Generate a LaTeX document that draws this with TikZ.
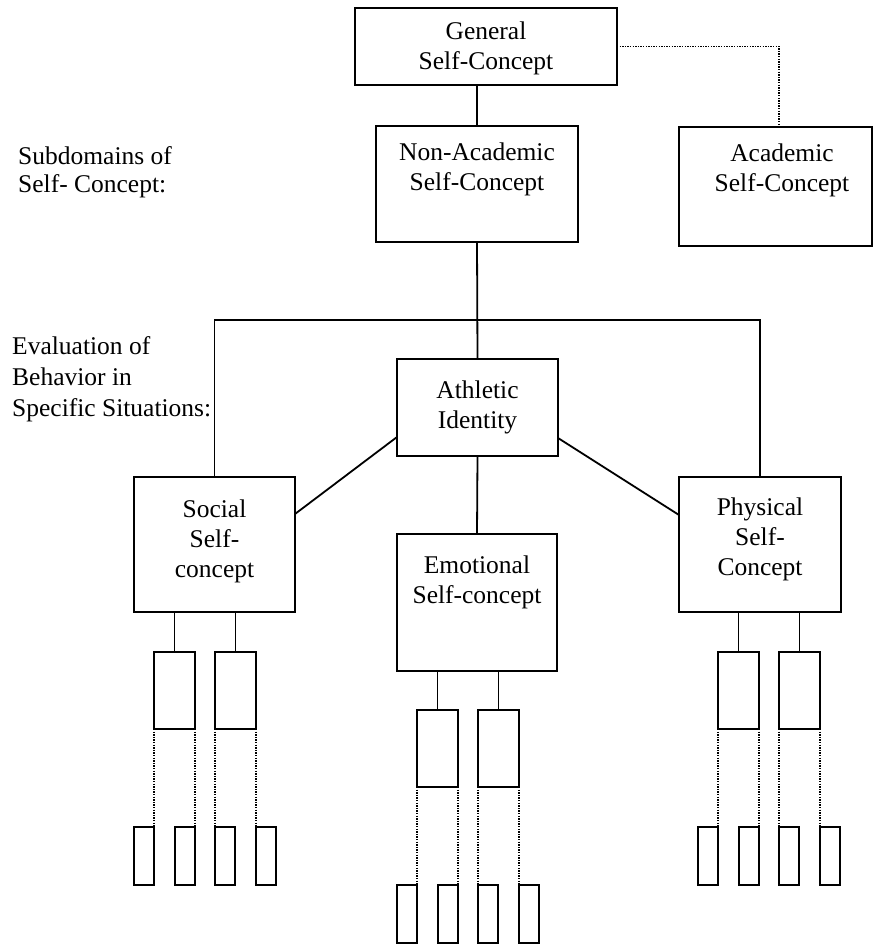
\documentclass[tikz,border=0pt]{standalone}
\usepackage{fontspec}
\setmainfont{Liberation Serif}
\usetikzlibrary{calc}
\tikzset{
  box/.style={draw, line width=2.6pt, fill=white, rectangle, inner sep=0pt, outer sep=0pt},
  conn/.style={line width=1.8pt},
  dotline/.style={line width=1.4pt, dash pattern=on 1.3pt off 1.3pt},
  txt/.style={align=center, inner sep=0pt, font=\fontsize{25.5}{30}\selectfont},
  lefttxt/.style={align=left, inner sep=0pt, anchor=north west},
}
\newcommand{\subtree}[5]{%
  % #1 prefix, #2 L (left of first mid box), #3 mid top, #4 small top, #5 parent
  \node[box, minimum width=41pt, minimum height=77pt] (#1m1) at (#2+20.5, #3+38.5) {};
  \node[box, minimum width=41pt, minimum height=77pt] (#1m2) at (#2+81.5, #3+38.5) {};
  \node[box, minimum width=20pt, minimum height=58pt] (#1s1) at (#2-10, #4+29) {};
  \node[box, minimum width=20pt, minimum height=58pt] (#1s2) at (#2+31, #4+29) {};
  \node[box, minimum width=20pt, minimum height=58pt] (#1s3) at (#2+71, #4+29) {};
  \node[box, minimum width=20pt, minimum height=58pt] (#1s4) at (#2+112, #4+29) {};
  \draw[conn] (#1m1.north) -- (#1m1.north |- #5.south);
  \draw[conn] (#1m2.north) -- (#1m2.north |- #5.south);
  \draw[dotline] (#1m1.south west) -- (#1s1.north east);
  \draw[dotline] (#1m1.south east) -- (#1s2.north east);
  \draw[dotline] (#1m2.south west) -- (#1s3.north west);
  \draw[dotline] (#1m2.south east) -- (#1s4.north west);
}
\begin{document}
\begin{tikzpicture}[x=1pt, y=-1pt]
\useasboundingbox[fill=white] (0,0) rectangle (874,944);

% main boxes
\node[box, minimum width=262pt, minimum height=77pt] (gen) at (486,46.5) {};
\node[txt] (gentxt) at (486,48) {General\\Self-Concept};

\node[box, minimum width=202pt, minimum height=116pt] (na) at (477,184) {};
\node[txt, anchor=north] (natxt) at (477,143) {Non-Academic\\Self-Concept};

\node[box, minimum width=193pt, minimum height=119pt] (acad) at (775.5,186.5) {};
\node[txt, anchor=north] (acadtxt) at (782,144) {Academic\\Self-Concept};

\node[box, minimum width=161pt, minimum height=97pt] (ath) at (477.5,407.5) {};
\node[txt, anchor=north] (athtxt) at (477.5,381) {Athletic\\Identity};

\node[box, minimum width=161pt, minimum height=135pt] (soc) at (214.5,544.5) {};
\node[txt, anchor=north] (soctxt) at (214.5,500) {Social\\Self-\\concept};

\node[box, minimum width=162pt, minimum height=135pt] (phys) at (760,544.5) {};
\node[txt, anchor=north] (physstxt) at (760,498) {Physical\\Self-\\Concept};

\node[box, minimum width=160pt, minimum height=137pt] (emo) at (477,602.5) {};
\node[txt, anchor=north] (emotxt) at (477,556) {Emotional\\Self-concept};

% left labels
\node[txt, lefttxt, font=\rmfamily\fontsize{25.5}{28}\selectfont] (sub) at (18,146) {Subdomains of\\Self- Concept:};
\node[txt, lefttxt, font=\rmfamily\fontsize{25.5}{31}\selectfont] (evl) at (12,336) {Evaluation of\\Behavior in\\Specific Situations:};

% connectors
\draw[conn] (na.north) -- (na.north |- gen.south);
\draw[dotline] (gen.east) -| ([xshift=3.5pt]acad.north);
\draw[conn] (na.south) -- (ath.north);
\coordinate (hb) at (477,320);
\draw[conn] (soc.north) |- (hb) -| (phys.north);
\draw[conn] ([yshift=-37pt]soc.north east) -- ([yshift=19pt]ath.south west);
\draw[conn] ([yshift=18pt]ath.south east) -- ([yshift=-38pt]phys.north west);
\draw[conn] (ath.south) -- (emo.north);

% sub-trees
\subtree{so}{154}{652}{827}{soc}
\subtree{em}{417}{710}{885}{emo}
\subtree{ph}{718}{652}{827}{phys}
\end{tikzpicture}
\end{document}
